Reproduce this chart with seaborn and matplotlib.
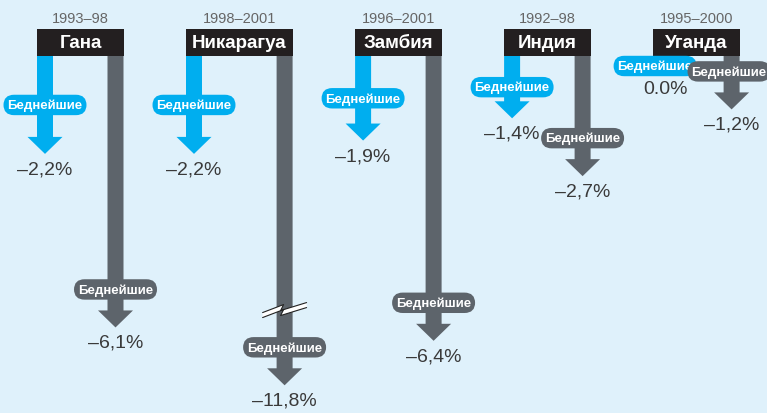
import matplotlib
matplotlib.use("Agg")
import matplotlib.pyplot as plt
from matplotlib.patches import Polygon, Rectangle
import seaborn as sns

# data
countries = ['Гана', 'Никарагуа', 'Замбия', 'Индия', 'Уганда']
periods = ['1993–98', '1998–2001', '1996–2001', '1992–98', '1995–2000']
change_blue = [-2.2, -2.2, -1.9, -1.4, 0.0]
change_gray = [-6.1, -11.8, -6.4, -2.7, -1.2]
group_label = 'Беднейшие'

BG = '#dff1fb'
BLUE = '#00aeef'
GRAY = '#5d646b'
BOX = '#231f20'
TXT = '#3a3a3a'

W = 767
PX_PER_PCT = 44.5
px = 1 / PX_PER_PCT   # one pixel in y units
FLOOR = -7.4          # deepest drawn arrow, longer ones get a break mark


def fmt(v):
    if v == 0:
        return '0.0%'
    return ('–%.1f%%' % abs(v)).replace('.', ',')


def draw_arrow(ax, xc, v, color):
    tip = max(v, FLOOR)
    sw, hw, hl = 8, 17.5, 17 * px
    pts = [(xc - sw, 0), (xc + sw, 0), (xc + sw, tip + hl), (xc + hw, tip + hl),
           (xc, tip), (xc - hw, tip + hl), (xc - sw, tip + hl)]
    ax.add_patch(Polygon(pts, closed=True, fc=color, ec='none', zorder=2))
    return tip


def draw_break(ax, xc, y):
    # zigzag cut across the shaft
    upper = [(-22, -3), (-1, 5), (-4, -1), (22, 7)]
    lower = [(dx, dy - 5) for dx, dy in upper]
    up = [(xc + dx, y + dy * px) for dx, dy in upper]
    lo = [(xc + dx, y + dy * px) for dx, dy in lower]
    ax.add_patch(Polygon(up + lo[::-1], closed=True, fc='white', ec='none', zorder=3))
    for line in (up, lo):
        ax.plot([p[0] for p in line], [p[1] for p in line], color='#222222', lw=0.8, zorder=3)


def pill(ax, x, y, color):
    x = min(x, W - 38)  # keep the label text inside the figure
    ax.text(x, y, group_label, ha='center', va='center', color='white', fontsize=9.5,
            fontweight='bold', zorder=5,
            bbox=dict(boxstyle='round,pad=0.3,rounding_size=0.8', fc=color, ec='none'))


sns.set_theme(style='white')
plt.rcParams['font.family'] = ['Liberation Sans', 'DejaVu Sans']

fig = plt.figure(figsize=(7.67, 4.14), dpi=100, facecolor=BG)
ax = fig.add_axes([0, 0, 1, 1])
ax.set_facecolor(BG)
ax.set_xlim(0, W)
ax.set_ylim(-357 * px, 57 * px)
ax.axis('off')

x = 37
for name, period, vb, vg in zip(countries, periods, change_blue, change_gray):
    w = max(87, 11.9 * len(name))
    ax.add_patch(Rectangle((x, 0), w, 27 * px, fc=BOX, ec='none', zorder=4))
    ax.text(x + w / 2, 13.5 * px, name, ha='center', va='center', color='white',
            fontsize=13.5, fontweight='bold', zorder=5)
    ax.text(x + w / 2, 38 * px, period, ha='center', va='center', color='#666666', fontsize=10.5)

    # blue arrow on the left edge of the box
    xb = x + 8
    if vb == 0:
        pill(ax, xb - 6, -10 * px, BLUE)
        ax.text(xb + 4, -33 * px, fmt(vb), ha='center', va='center', color=TXT, fontsize=14)
    else:
        tip = draw_arrow(ax, xb, vb, BLUE)
        pill(ax, xb, tip * 0.5, BLUE)
        ax.text(xb, tip - 15 * px, fmt(vb), ha='center', va='center', color=TXT, fontsize=14)

    # gray arrow on the right edge of the box
    xg = x + w - 8.5
    tip = draw_arrow(ax, xg, vg, GRAY)
    if vg < FLOOR:
        draw_break(ax, xg, tip * 0.77)
    pill(ax, xg, tip + 38 * px, GRAY)
    ax.text(xg, tip - 15 * px, fmt(vg), ha='center', va='center', color=TXT, fontsize=14)

    x += w + 62

fig.savefig('out.png', dpi=100, facecolor=BG)
